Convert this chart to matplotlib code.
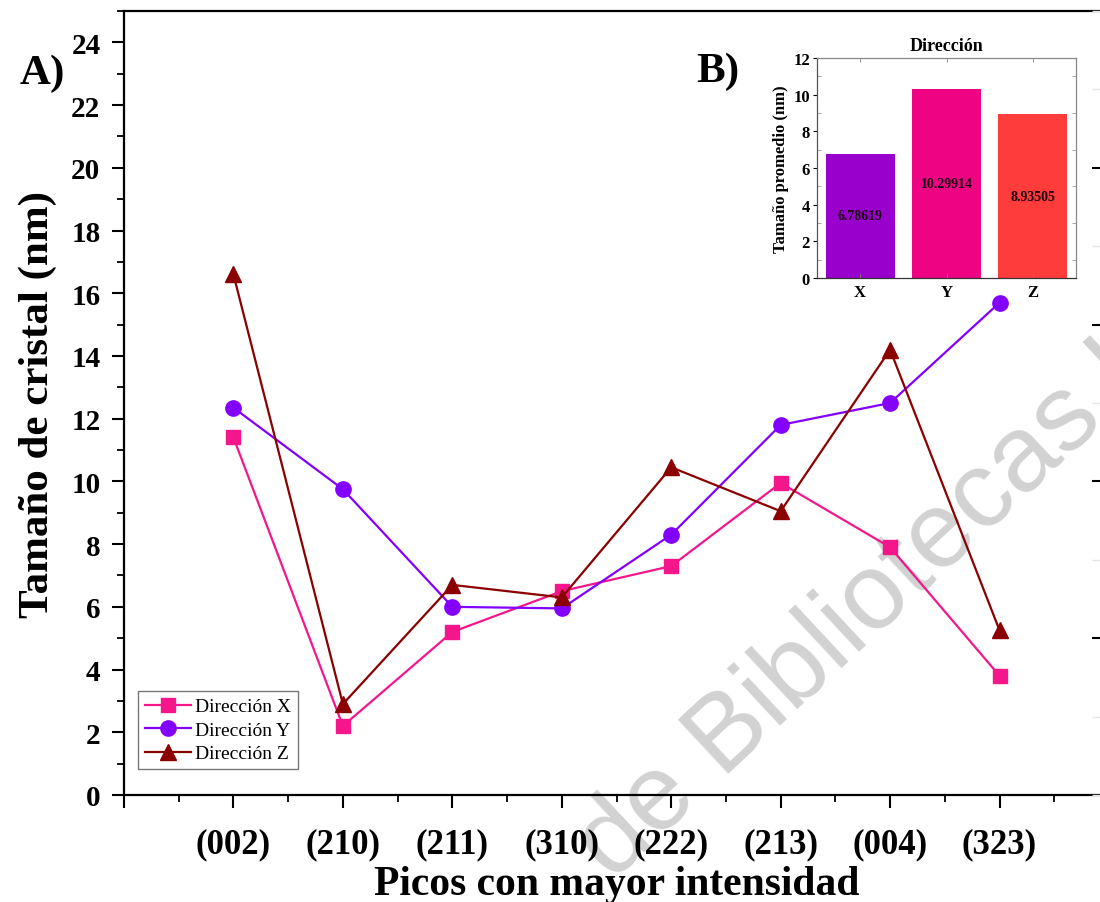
"""
Crystal size per diffraction peak (A) with average size per direction inset (B).
"""

import numpy as np
import matplotlib
matplotlib.use("Agg")
import matplotlib.pyplot as plt
from matplotlib.ticker import MultipleLocator, NullFormatter

plt.rcParams["font.family"] = ["Liberation Serif", "DejaVu Serif"]
plt.rcParams["font.weight"] = "bold"
plt.rcParams["axes.labelweight"] = "bold"
plt.rcParams["axes.titleweight"] = "bold"

# Peaks (hkl) and crystal size per direction (nm)
peaks = ["(002)", "(210)", "(211)", "(310)", "(222)", "(213)", "(004)", "(323)"]
size_x = [11.4, 2.2, 5.2, 6.5, 7.3, 9.95, 7.9, 3.8]
size_y = [12.35, 9.75, 6.0, 5.95, 8.3, 11.8, 12.5, 15.7]
size_z = [16.6, 2.9, 6.7, 6.3, 10.45, 9.05, 14.2, 5.25]

# Average size per direction (inset)
directions = ["X", "Y", "Z"]
avg_size = [6.78619, 10.29914, 8.93505]
avg_labels = ["6.78619", "10.29914", "8.93505"]

COL_X = "#F5168C"
COL_Y = "#8300FF"
COL_Z = "#8B0000"
BAR_COLORS = ["#9900CC", "#EE0482", "#FF3C3C"]

W, H = 1100, 903
fig = plt.figure(figsize=(W / 100, H / 100), dpi=100)
fig.patch.set_facecolor("white")


def px_box(x0, y0, x1, y1):
    """Pixel box (top-left origin) -> figure fraction rect."""
    return [x0 / W, 1 - y1 / H, (x1 - x0) / W, (y1 - y0) / H]


# light watermark behind the plot
fig.text(612 / W, 1 - 882 / H, "de Bibliotecas U", family="Liberation Sans",
         fontweight="normal", fontsize=78, color="#d2d2d2", rotation=43,
         rotation_mode="anchor", ha="left", va="baseline", zorder=-5)

# ---- main panel ----
ax = fig.add_axes(px_box(124, 12, 1109, 796))
ax.set_facecolor("none")
xpos = np.arange(1, len(peaks) + 1)

ax.plot(xpos, size_x, color=COL_X, lw=1.6, marker="s", ms=10, label="Dirección X")
ax.plot(xpos, size_y, color=COL_Y, lw=1.6, marker="o", ms=11, label="Dirección Y")
ax.plot(xpos, size_z, color=COL_Z, lw=1.6, marker="^", ms=12, label="Dirección Z")

ax.set_xlim(0, 9)
ax.set_ylim(0, 25)
ax.set_xticks(np.arange(0, 10))
ax.set_xticklabels([""] + peaks + [""])
ax.xaxis.set_minor_locator(MultipleLocator(0.5))
ax.set_yticks(np.arange(0, 25, 2))
ax.yaxis.set_minor_locator(MultipleLocator(1))

for s in ax.spines.values():
    s.set_linewidth(1.6)
ax.tick_params(axis="x", which="major", direction="out", length=9, width=1.5,
               labelsize=25, pad=14, top=False)
ax.tick_params(axis="x", which="minor", direction="out", length=5, width=1.3, top=False)
ax.tick_params(axis="y", which="major", direction="out", length=9, width=1.5,
               labelsize=21, pad=8, right=False)
ax.tick_params(axis="y", which="minor", direction="out", length=5, width=1.3, right=False)

ax.set_xlabel("Picos con mayor intensidad", fontsize=30, labelpad=4)
ax.set_ylabel("Tamaño de cristal (nm)", fontsize=31, labelpad=10)

# inward ticks on the right frame
axr = ax.twinx()
axr.set_ylim(0, 25)
axr.set_yticks([5, 10, 15, 20])
axr.yaxis.set_minor_locator(MultipleLocator(2.5))
axr.yaxis.set_major_formatter(NullFormatter())
axr.tick_params(axis="y", which="major", direction="in", length=12, width=1.5)
axr.tick_params(axis="y", which="minor", direction="in", length=12, width=1.0,
                color="#e6e6e6")
for s in axr.spines.values():
    s.set_visible(False)

leg = ax.legend(loc="lower left", bbox_to_anchor=(0.014, 0.033), borderaxespad=0,
                prop={"family": "Liberation Serif", "weight": "normal", "size": 14},
                handlelength=2.4, handletextpad=0.2, labelspacing=0.3,
                borderpad=0.35, fancybox=False, framealpha=1)
leg.get_frame().set_edgecolor("#777777")
leg.get_frame().set_linewidth(1.0)

# ---- inset: average size by direction ----
axi = fig.add_axes(px_box(817, 59, 1076, 279))
bpos = np.arange(len(directions))
bars = axi.bar(bpos, avg_size, width=0.8, color=BAR_COLORS)
for b, v, lab in zip(bpos, avg_size, avg_labels):
    axi.text(b, v / 2, lab, ha="center", va="center", fontsize=10,
             color="#1a0010")
axi.set_xlim(-0.5, 2.5)
axi.set_ylim(0, 12)
axi.set_xticks(bpos)
axi.set_xticklabels(directions)
axi.set_yticks(np.arange(0, 13, 2))
axi.yaxis.set_minor_locator(MultipleLocator(1))
axi.tick_params(axis="x", direction="in", length=3, width=0.6, top=True,
                labelsize=12, pad=4, color="#888888")
axi.tick_params(axis="y", which="major", direction="out", length=3, width=0.8,
                labelsize=12, pad=2)
axi.tick_params(axis="y", which="minor", direction="in", length=3, width=0.6,
                right=True, color="#999999")
for s in axi.spines.values():
    s.set_linewidth(0.9)
    s.set_color("#888888")
axi.spines["bottom"].set_color("#333333")
axi.spines["left"].set_color("#555555")
axi.set_title("Dirección", fontsize=13, pad=6)
axi.set_ylabel("Tamaño promedio (nm)", fontsize=12, labelpad=3)

# panel letters
fig.text(42 / W, 1 - 74 / H, "A)", fontsize=31, ha="center", va="center")
fig.text(718 / W, 1 - 72 / H, "B)", fontsize=31, ha="center", va="center")

fig.savefig("out.png", dpi=100, facecolor="white")
